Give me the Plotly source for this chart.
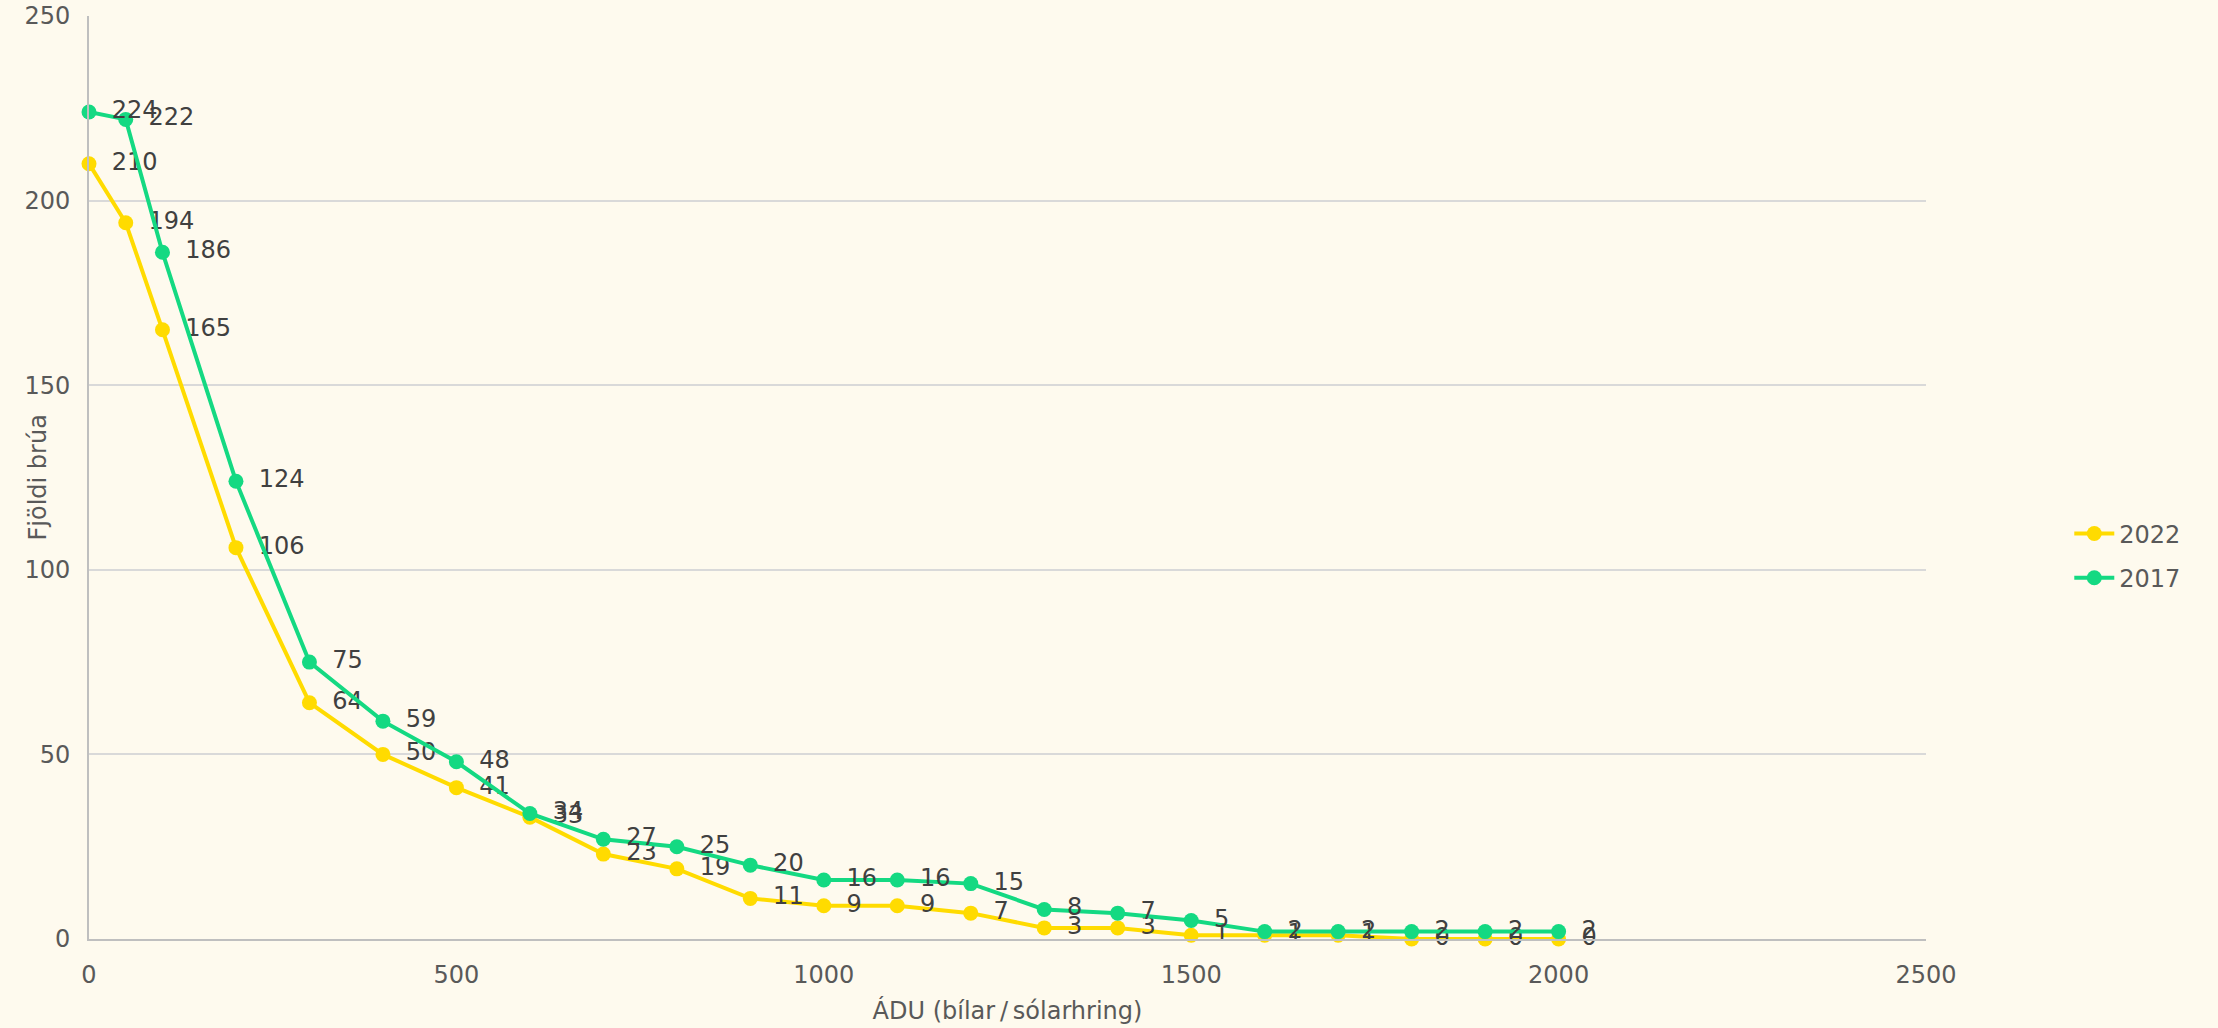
import plotly.graph_objects as go

adu = [0, 50, 100, 200, 300, 400, 500, 600, 700, 800, 900, 1000, 1100, 1200,
       1300, 1400, 1500, 1600, 1700, 1800, 1900, 2000]
bridges_2022 = [210, 194, 165, 106, 64, 50, 41, 33, 23, 19, 11, 9, 9, 7,
                3, 3, 1, 1, 1, 0, 0, 0]
bridges_2017 = [224, 222, 186, 124, 75, 59, 48, 34, 27, 25, 20, 16, 16, 15,
                8, 7, 5, 2, 2, 2, 2, 2]

series_names = ["2022", "2017"]
series_colors = ["#FFDB00", "#14D982"]

FONT = "DejaVu Sans"
FS = 24
GRAY = "#595959"
BG = "#FEFAEE"
GAP = "\u00a0\u2009"

fig = go.Figure()
for name, vals, col in zip(series_names, [bridges_2022, bridges_2017], series_colors):
    fig.add_trace(go.Scatter(
        x=adu, y=vals, name=name, mode="lines+markers+text",
        legendgroup=name,
        text=[GAP + str(v) for v in vals], textposition="middle right",
        textfont=dict(family=FONT, size=FS, color="#404040"),
        line=dict(color=col, width=4),
        marker=dict(color=col, size=15),
        cliponaxis=False,
    ))

fig.update_layout(
    width=2218, height=1028,
    margin=dict(l=89, r=292, t=16, b=89, autoexpand=False),
    paper_bgcolor=BG, plot_bgcolor=BG,
    font=dict(family=FONT, size=FS, color=GRAY),
    showlegend=True,
    legend=dict(x=1.078, xanchor="left", y=0.415, yanchor="middle",
                bgcolor="rgba(0,0,0,0)", font=dict(family=FONT, size=FS, color=GRAY),
                traceorder="grouped", tracegroupgap=10, itemwidth=40),
    hovermode=False,
    annotations=[dict(
        text="Fjöldi brúa", textangle=-90, xref="paper", yref="paper",
        x=-0.0283, y=0.5, xanchor="center", yanchor="middle", showarrow=False,
        font=dict(family=FONT, size=FS, color=GRAY),
    )],
)
fig.update_xaxes(
    range=[0, 2500], dtick=500, tick0=0,
    showgrid=False, zeroline=False, automargin=False,
    showline=True, linecolor="#BFBFBF", linewidth=2,
    ticks="", ticklabelstandoff=13,
    tickfont=dict(family=FONT, size=FS, color=GRAY),
    title=dict(text="ÁDU (bílar\u2009/\u2009sólarhring)",
               font=dict(family=FONT, size=FS, color=GRAY), standoff=14),
)
fig.update_yaxes(
    range=[0, 250], dtick=50, tick0=0,
    showgrid=True, gridcolor="#D9D9D9", gridwidth=1.5,
    zeroline=False, automargin=False,
    showline=True, linecolor="#BFBFBF", linewidth=2,
    ticks="", ticklabelstandoff=12,
    tickfont=dict(family=FONT, size=FS, color=GRAY),
)

fig.write_html(
    "out.html",
    config={"displayModeBar": False},
    post_script="document.body.style.margin='0';document.body.style.background='%s';" % BG,
)
